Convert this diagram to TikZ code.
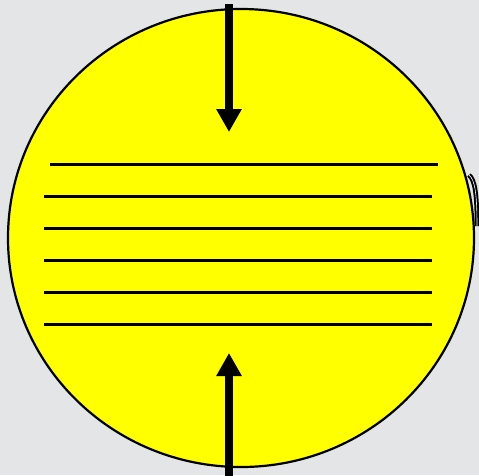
\documentclass[tikz,border=0pt]{standalone}
\usetikzlibrary{arrows.meta,shapes.geometric}
\definecolor{Backdrop}{HTML}{E4E5E6}
\definecolor{Lemon}{HTML}{FFFF00}

\begin{document}
\begin{tikzpicture}[x=1pt,y=-1pt,
    disc/.style={ellipse,draw=black,line width=2.2pt,fill=Lemon,
                 minimum width=466pt,minimum height=458pt,inner sep=0pt},
    layer/.style={black,line width=3pt},
    push/.style={-{Triangle[length=23pt,width=24pt]},line width=8pt,black}]
    \fill[Backdrop] (0,0) rectangle (479,475);
    \useasboundingbox (0,0) rectangle (479,475);
    % small edge peeking out on the right
    \draw[black,line width=2pt,double=white,double distance=0.6pt]
        (469,175) .. controls (475,180) and (477,194) .. (477,226);
    \node[disc] (ball) at (241,238) {};
    % layers
    \draw[layer] (50,164) -- (438,164);
    \foreach \y in {196,228,260,292,324}
        \draw[layer] (44,\y) -- (432,\y);
    % forces
    \coordinate (topstart) at (229,4);
    \coordinate (toptip) at (229,132);
    \coordinate (botstart) at (229,476);
    \coordinate (bottip) at (229,353);
    \draw[push] (topstart) -- (toptip);
    \draw[push] (botstart) -- (bottip);
\end{tikzpicture}
\end{document}
